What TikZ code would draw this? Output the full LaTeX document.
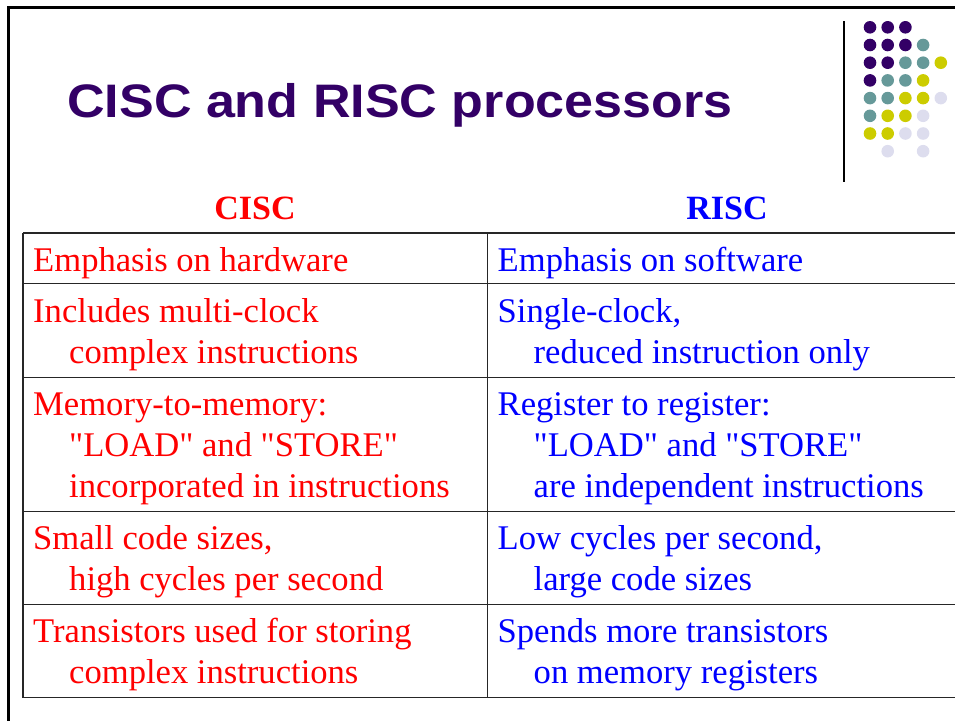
\documentclass[tikz,border=0pt]{standalone}
\usepackage{fontspec}
\setmainfont{Liberation Serif}
\newfontfamily\headingfont{Liberation Sans}

\definecolor{deeppurple}{HTML}{330066}
\definecolor{dotteal}{HTML}{669999}
\definecolor{dotyellow}{HTML}{CCCC00}
\definecolor{dotlavender}{HTML}{DDDDEE}
\definecolor{ciscred}{HTML}{FF0000}
\definecolor{riscblue}{HTML}{0000FF}

% one table cell: first line flush, following lines indented
\newcommand\cellbox[1]{\vtop{\baselineskip=41pt\lineskiplimit=-100pt\lineskip=0pt #1}}
\newcommand\firstline[1]{\hbox{#1}}
\newcommand\moreline[1]{\hbox{\kern36pt #1}}
\newcommand\dq{\textquotedbl}
\def\blankslot{none}

\tikzset{
  frameline/.style={line width=3pt, black},
  gridline/.style={line width=1.4pt, black!85},
  celltext/.style={anchor=base west, inner sep=0pt, font=\fontsize{34.6}{41}\selectfont},
  headtext/.style={anchor=base, inner sep=0pt, font=\bfseries\fontsize{34}{41}\selectfont},
  dot/.style={circle, minimum size=12.6pt, inner sep=0pt, draw=none},
}

\begin{document}
\begin{tikzpicture}[x=1pt,y=-1pt]
\useasboundingbox (0,0) rectangle (955,720);
\clip (0,0) rectangle (955,720);

% slide frame
\draw[frameline] (8.5,760) -- (8.5,7) -- (1000,7);

% title
\node[anchor=base west, inner sep=0pt, text=deeppurple,
      font=\headingfont\bfseries\fontsize{47}{47}\selectfont] (title) at (67,117)
      {\scalebox{1.108}[1]{CISC and RISC processors}};

% decorative bar and dot pattern
\draw[line width=2pt] (844,21) -- (844,182);
\foreach \row/\cols in {
  1/{deeppurple,deeppurple,deeppurple},
  2/{deeppurple,deeppurple,deeppurple,dotteal},
  3/{deeppurple,deeppurple,dotteal,dotteal,dotyellow},
  4/{deeppurple,dotteal,dotteal,dotyellow},
  5/{dotteal,dotteal,dotyellow,dotyellow,dotlavender},
  6/{dotteal,dotyellow,dotyellow,dotlavender},
  7/{dotyellow,dotyellow,dotlavender,dotlavender},
  8/{none,dotlavender,none,dotlavender}} {
  \foreach \c [count=\k] in \cols {
    \edef\thisslot{\c}
    \ifx\thisslot\blankslot\else
      \node[dot, fill=\c] (dot-\row-\k) at ({870+17.7*(\k-1)},{27.3+17.7*(\row-1)}) {};
    \fi
  }
}

% column headings
\node[headtext, text=ciscred]  (cischead) at (255,219) {CISC};
\node[headtext, text=riscblue] (rischead) at (727,219) {RISC};

% table rules
\foreach \yy in {233,283.5,377.3,511.5,604.5,697.5}
  \draw[gridline] (23,\yy) -- (1000,\yy);
\draw[gridline] (23,233) -- (23,697.5);
\draw[gridline] (487.3,233) -- (487.3,697.5);

% CISC column
\node[celltext, text=ciscred] (c1) at (33,271.7)
  {\cellbox{\firstline{Emphasis on hardware}}};
\node[celltext, text=ciscred] (c2) at (33,322.5)
  {\cellbox{\firstline{Includes multi-clock}\moreline{complex instructions}}};
\node[celltext, text=ciscred] (c3) at (33,415)
  {\cellbox{\firstline{Memory-to-memory:}\moreline{\dq LOAD\dq{} and \dq STORE\dq}\moreline{incorporated in instructions}}};
\node[celltext, text=ciscred] (c4) at (33,549)
  {\cellbox{\firstline{Small code sizes,}\moreline{high cycles per second}}};
\node[celltext, text=ciscred] (c5) at (33,642.7)
  {\cellbox{\firstline{Transistors used for storing}\moreline{complex instructions}}};

% RISC column
\node[celltext, text=riscblue] (r1) at (497.5,271.7)
  {\cellbox{\firstline{Emphasis on software}}};
\node[celltext, text=riscblue] (r2) at (497.5,322.5)
  {\cellbox{\firstline{Single-clock,}\moreline{reduced instruction only}}};
\node[celltext, text=riscblue] (r3) at (497.5,415)
  {\cellbox{\firstline{Register to register:}\moreline{\dq LOAD\dq{} and \dq STORE\dq}\moreline{are independent instructions}}};
\node[celltext, text=riscblue] (r4) at (497.5,549)
  {\cellbox{\firstline{Low cycles per second,}\moreline{large code sizes}}};
\node[celltext, text=riscblue] (r5) at (497.5,642.7)
  {\cellbox{\firstline{Spends more transistors}\moreline{on memory registers}}};
\end{tikzpicture}
\end{document}
